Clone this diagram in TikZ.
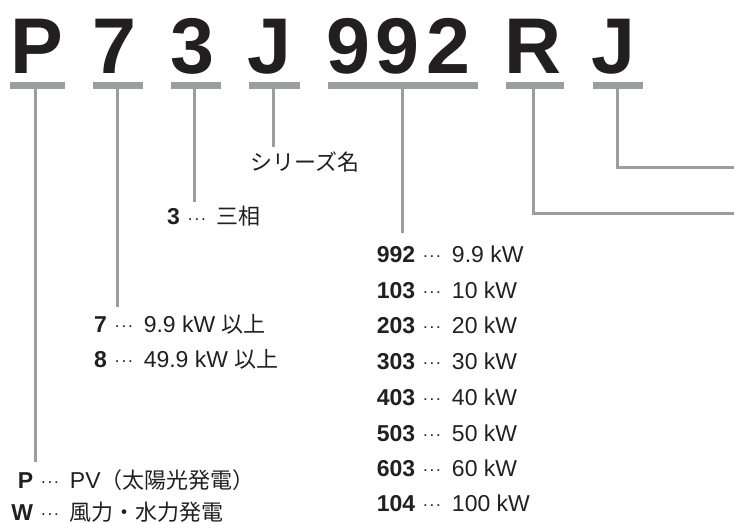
\documentclass[tikz,border=0pt]{standalone}
\usepackage{fontspec}
\setmainfont{Liberation Sans}
\newfontfamily\jpfam{Noto Sans CJK JP}
\newcommand{\jp}{\jpfam\fontsize{22}{26}\selectfont}
\definecolor{ink}{HTML}{231F20}
\definecolor{lgray}{HTML}{9C9DA1}
\newcommand{\dd}{\hspace{8pt}{\fontsize{17}{17}\selectfont\raisebox{4.5pt}{.\hspace{1.8pt}.\hspace{1.8pt}.}}\hspace{11pt}}
\tikzset{
  big/.style={font=\fontsize{79}{79}\selectfont\bfseries, text=ink, anchor=base, inner sep=0pt},
  bar/.style={fill=lgray, inner sep=0pt, minimum height=7pt, draw=none},
  conn/.style={draw=lgray, line width=3pt},
  txt/.style={font=\fontsize{23}{26}\selectfont, text=ink, anchor=base west, inner sep=0pt},
}
\begin{document}
\begin{tikzpicture}[x=1pt,y=-1pt]
\useasboundingbox (0,0) rectangle (734,524);
% big code letters
\node[big] (cP) at (36.5,74) {P};
\node[big] (c7) at (114.5,74) {7};
\node[big] (c3) at (192,74) {3};
\node[big] (cJ) at (269,74) {J};
\node[big] (c9a) at (348,74) {9};
\node[big] (c9b) at (397,74) {9};
\node[big] (c2) at (448,74) {2};
\node[big] (cR) at (533.5,74) {R};
\node[big] (cJb) at (613,74) {J};
% bars
\node[bar, minimum width=55pt] (bP) at (37.5,85.5) {};
\node[bar, minimum width=50pt] (b7) at (118,85.5) {};
\node[bar, minimum width=50pt] (b3) at (196,85.5) {};
\node[bar, minimum width=51pt] (bJ) at (274.5,85.5) {};
\node[bar, minimum width=150pt] (b9) at (403,85.5) {};
\node[bar, minimum width=58pt] (bR) at (535,85.5) {};
\node[bar, minimum width=50pt] (bJb) at (618,85.5) {};
% texts
\node[txt] (sJ) at (250,171) {\jp シリーズ名};
\node[txt] (s3) at (167,225) {\textbf{3}\dd{\jp 三相}};
\node[txt] (s7) at (94,332) {\textbf{7}\dd 9.9 kW {\jp 以上}};
\node[txt] (s8) at (94,367) {\textbf{8}\dd 49.9 kW {\jp 以上}};
\node[txt] (sP) at (12,488) {\makebox[21pt][r]{\textbf{P}}\dd PV{\jp （太陽光発電）}};
\node[txt] (sW) at (12,520) {\makebox[21pt][r]{\textbf{W}}\dd{\jp 風力・水力発電}};
\node[txt] (n1) at (377,262) {\makebox[38pt][r]{\textbf{992}}\dd 9.9 kW};
\node[txt] (n2) at (377,298) {\makebox[38pt][r]{\textbf{103}}\dd 10 kW};
\node[txt] (n3) at (377,333) {\makebox[38pt][r]{\textbf{203}}\dd 20 kW};
\node[txt] (n4) at (377,369) {\makebox[38pt][r]{\textbf{303}}\dd 30 kW};
\node[txt] (n5) at (377,405) {\makebox[38pt][r]{\textbf{403}}\dd 40 kW};
\node[txt] (n6) at (377,441) {\makebox[38pt][r]{\textbf{503}}\dd 50 kW};
\node[txt] (n7) at (377,476) {\makebox[38pt][r]{\textbf{603}}\dd 60 kW};
\node[txt] (n8) at (377,511) {\makebox[38pt][r]{\textbf{104}}\dd 100 kW};
% connector ends
\coordinate (eP) at (35.5,462);
\coordinate (e7) at (117,307);
\coordinate (e3) at (194,202);
\coordinate (eJ) at (273,147);
\coordinate (e9) at (402,233);
\coordinate (kR) at (533,213);
\coordinate (eR) at (734,213);
\coordinate (kJ) at (617,168);
\coordinate (eJb) at (734,168);
% connectors
\draw[conn] (bP.center -| eP) -- (eP);
\draw[conn] (b7.center -| e7) -- (e7);
\draw[conn] (b3.center -| e3) -- (e3);
\draw[conn] (bJ.center -| eJ) -- (eJ);
\draw[conn] (b9.center -| e9) -- (e9);
\draw[conn] (bR.center -| kR) -- (kR) -- (eR);
\draw[conn] (bJb.center -| kJ) -- (kJ) -- (eJb);
\end{tikzpicture}
\end{document}
